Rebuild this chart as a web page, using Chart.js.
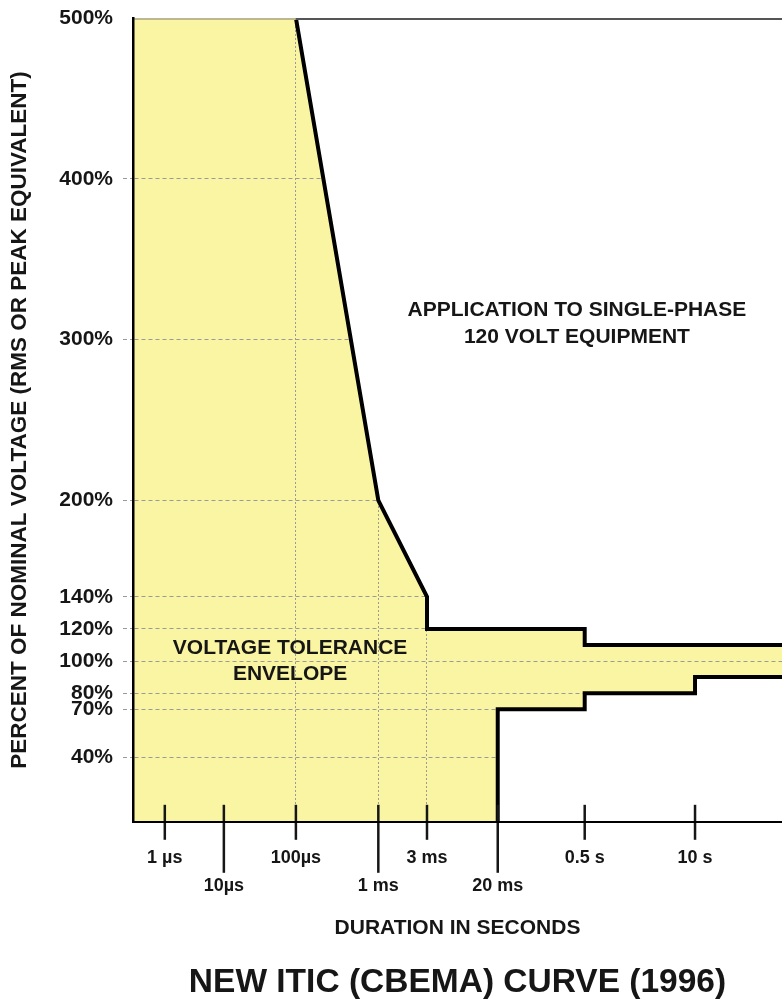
<!DOCTYPE html>
<html>
<head>
<meta charset="utf-8">
<title>New ITIC (CBEMA) curve</title>
<script src="https://cdn.jsdelivr.net/npm/chart.js@4.4.1/dist/chart.umd.min.js"></script>
<style>
  html, body { margin: 0; padding: 0; background: #fff; }
  #wrap { position: relative; width: 782px; height: 1003px; }
</style>
</head>
<body>
<div id="wrap"><canvas id="iticChart"></canvas></div>
<script>
// durations are in seconds, voltages in percent of nominal
const tickSeconds = [1e-6, 1e-5, 1e-4, 1e-3, 3e-3, 0.02, 0.5, 10];
const tickLabels = ['1 µs', '10µs', '100µs', '1 ms', '3 ms', '20 ms', '0.5 s', '10 s'];
const lowerRowLabels = ['10µs', '1 ms', '20 ms'];
const dottedSeconds = [1e-4, 1e-3, 3e-3];
const percentTicks = [40, 70, 80, 100, 120, 140, 200, 300, 400, 500];

// upper (overvoltage) and lower (undervoltage) limits of the envelope
const upperSeconds = [1e-4, 1e-3, 3e-3, 3e-3, 0.5, 0.5, 100];
const upperPercent = [500, 200, 140, 120, 120, 110, 110];
const lowerSeconds = [0.02, 0.02, 0.5, 0.5, 10, 10, 100];
const lowerPercent = [0, 70, 70, 80, 80, 90, 90];

const xRange = [2.9e-7, 100];

// the printed curve does not space its decades evenly,
// so the x axis follows where each tick sits along the width
const axisStops = {
  seconds: [xRange[0], ...tickSeconds, xRange[1]],
  place: [0, 0.049, 0.140, 0.251, 0.378, 0.453, 0.562, 0.696, 0.866, 1]
};

const yellow = '#faf5a2';
const ink = '#161616';
const fontFamily = '"Liberation Sans", Arial, Helvetica, sans-serif';

class DrawnLogScale extends Chart.LinearScale {
  toDecimal(v) {
    const s = axisStops.seconds.map(Math.log10);
    const p = axisStops.place;
    const lg = Math.log10(v);
    let i = 0;
    while (i < s.length - 2 && lg > s[i + 1]) i++;
    return p[i] + (lg - s[i]) / (s[i + 1] - s[i]) * (p[i + 1] - p[i]);
  }
  getPixelForValue(v) {
    return this.getPixelForDecimal(this.toDecimal(v));
  }
  getValueForPixel(px) {
    const d = this.getDecimalForPixel(px);
    const s = axisStops.seconds.map(Math.log10);
    const p = axisStops.place;
    let i = 0;
    while (i < p.length - 2 && d > p[i + 1]) i++;
    return Math.pow(10, s[i] + (d - p[i]) / (p[i + 1] - p[i]) * (s[i + 1] - s[i]));
  }
}
DrawnLogScale.id = 'drawnLog';
DrawnLogScale.defaults = Chart.LinearScale.defaults;
Chart.register(DrawnLogScale);

function points(xs, ys) {
  return xs.map((x, i) => ({ x: x, y: ys[i] }));
}

const notes = [
  { lines: ['APPLICATION TO SINGLE-PHASE', '120 VOLT EQUIPMENT'], at: [0.684, 0.364], gap: 27 },
  { lines: ['VOLTAGE TOLERANCE', 'ENVELOPE'], at: [0.242, 0.784], gap: 26 }
];

// yellow envelope under the grid; the white fills cut it back to the limits
const envelope = {
  id: 'envelope',
  beforeDraw(chart) {
    const a = chart.chartArea, ctx = chart.ctx;
    ctx.save();
    ctx.fillStyle = yellow;
    ctx.fillRect(a.left, a.top, a.right - a.left, a.bottom - a.top);
    ctx.restore();
  },
  afterDatasetsDraw(chart) {
    const a = chart.chartArea, ctx = chart.ctx, x = chart.scales.x;
    ctx.save();
    // top edge of the frame
    const split = x.getPixelForValue(upperSeconds[0]);
    ctx.lineWidth = 2;
    ctx.strokeStyle = '#bdb88f';
    ctx.beginPath(); ctx.moveTo(a.left, a.top + 1); ctx.lineTo(split, a.top + 1); ctx.stroke();
    ctx.strokeStyle = '#555';
    ctx.beginPath(); ctx.moveTo(split, a.top + 1); ctx.lineTo(a.right, a.top + 1); ctx.stroke();

    // tick marks across the bottom axis
    ctx.strokeStyle = ink;
    ctx.lineWidth = 2.5;
    x.ticks.forEach((t, i) => {
      const px = x.getPixelForTick(i);
      const low = lowerRowLabels.includes(tickLabels[i]);
      ctx.beginPath();
      ctx.moveTo(px, a.bottom - 17);
      ctx.lineTo(px, a.bottom + (low ? 51 : 18));
      ctx.stroke();
    });

    // text notes
    ctx.fillStyle = ink;
    ctx.font = 'bold 21px ' + fontFamily;
    ctx.textAlign = 'center';
    ctx.textBaseline = 'middle';
    notes.forEach(n => {
      const cx = a.left + n.at[0] * (a.right - a.left);
      const cy = a.top + n.at[1] * (a.bottom - a.top);
      n.lines.forEach((line, k) => ctx.fillText(line, cx, cy + k * n.gap));
    });
    ctx.restore();
  }
};

const limitLine = {
  borderColor: '#000',
  borderWidth: 4,
  borderJoinStyle: 'miter',
  borderCapStyle: 'butt',
  pointRadius: 0,
  tension: 0,
  backgroundColor: '#fff'
};

new Chart(document.getElementById('iticChart'), {
  type: 'line',
  data: {
    datasets: [
      Object.assign({ label: 'Upper limit', data: points(upperSeconds, upperPercent), fill: 'end' }, limitLine),
      Object.assign({ label: 'Lower limit', data: points(lowerSeconds, lowerPercent), fill: 'start' }, limitLine)
    ]
  },
  options: {
    responsive: true,
    maintainAspectRatio: false,
    animation: false,
    layout: { padding: { top: 18, right: 0, left: 0, bottom: 0 } },
    plugins: {
      legend: { display: false },
      tooltip: { enabled: false },
      title: {
        display: true,
        position: 'bottom',
        fullSize: false,
        text: 'NEW ITIC (CBEMA) CURVE (1996)',
        color: ink,
        font: { family: fontFamily, size: 33.5, weight: 'bold', lineHeight: 1.2 },
        padding: { top: 22, bottom: 0 }
      }
    },
    scales: {
      x: {
        type: 'drawnLog',
        min: xRange[0],
        max: xRange[1],
        bounds: 'data',
        afterBuildTicks: axis => { axis.ticks = tickSeconds.map(v => ({ value: v })); },
        afterFit: axis => { axis.height = 119; },
        ticks: {
          autoSkip: false,
          maxRotation: 0,
          padding: 22,
          color: ink,
          font: { family: fontFamily, size: 18, weight: 'bold', lineHeight: '28px' },
          callback: (v, i) => lowerRowLabels.includes(tickLabels[i]) ? ['', tickLabels[i]] : tickLabels[i]
        },
        grid: {
          drawTicks: false,
          lineWidth: 1,
          color: c => (c.tick && dottedSeconds.includes(c.tick.value)) ? '#9a9a9a' : 'rgba(0,0,0,0)'
        },
        border: { display: true, color: '#000', width: 2, dash: [2, 2], z: 1 },
        title: {
          display: true,
          text: 'DURATION IN SECONDS',
          color: ink,
          font: { family: fontFamily, size: 21, weight: 'bold', lineHeight: 1.2 },
          padding: { top: 0, bottom: 0 }
        }
      },
      y: {
        min: 0,
        max: 500,
        afterBuildTicks: axis => { axis.ticks = percentTicks.map(v => ({ value: v })); },
        afterFit: axis => {
          axis.width = 133;
          axis.paddingTop = 0;
          axis.paddingBottom = 0;
        },
        ticks: {
          autoSkip: false,
          padding: 10,
          color: ink,
          font: { family: fontFamily, size: 21, weight: 'bold' },
          callback: v => v + '%'
        },
        grid: {
          lineWidth: 1,
          tickLength: 10,
          tickBorderDash: [4, 3],
          color: c => (c.tick && c.tick.value === 500) ? 'rgba(0,0,0,0)' : '#9a9a9a'
        },
        border: { display: true, color: '#000', width: 2.5, dash: [4, 3], z: 1 },
        title: {
          display: true,
          text: 'PERCENT OF NOMINAL VOLTAGE (RMS OR PEAK EQUIVALENT)',
          color: ink,
          font: { family: fontFamily, size: 22.5, weight: 'bold', lineHeight: 1.2 },
          padding: { top: 6, bottom: 0 }
        }
      }
    }
  },
  plugins: [envelope]
});
</script>
</body>
</html>
